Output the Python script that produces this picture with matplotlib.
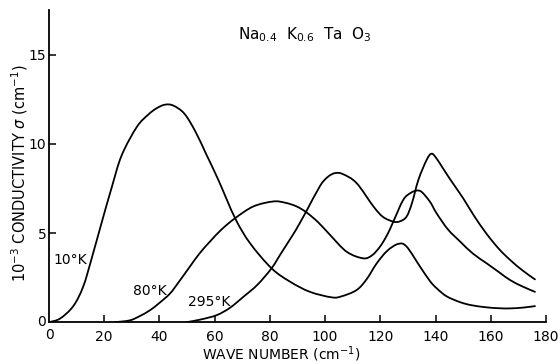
import matplotlib.pyplot as plt
from matplotlib.path import Path
from matplotlib.patches import PathPatch

# values
# wave number (cm^-1) and conductivity (10^-3 cm^-1) for each temperature
k10_x = [0, 4, 8.8, 12.4, 15.5, 19.1, 22.7, 26.3, 31.8, 36, 39, 42, 45, 49, 53, 57,
         61.3, 67.4, 72.8, 80.6, 87.3, 94.5, 102.4, 106, 111.4, 115, 118.7, 122.5,
         126.5, 129.5, 134.4, 138, 140.4, 144, 148.9, 153, 158.5, 163, 167, 172, 176]
k10_y = [0, 0.2, 0.9, 2.0, 3.6, 5.6, 7.55, 9.35, 10.95, 11.65, 12.0, 12.2, 12.15,
         11.7, 10.7, 9.4, 7.99, 5.83, 4.43, 3.02, 2.27, 1.7, 1.39, 1.45, 1.8, 2.4,
         3.3, 4.0, 4.39, 4.24, 3.11, 2.3, 1.9, 1.45, 1.12, 0.95, 0.83, 0.78, 0.77,
         0.82, 0.9]

k80_x = [24, 29.3, 33, 36.6, 40, 43.8, 47, 51, 54.5, 58.3, 62.5, 67.4, 74, 81.2,
         85.5, 89.7, 93.3, 97.5, 101.8, 107.8, 113.8, 117, 119.9, 122.5, 124.7, 128.3,
         131, 133.2, 135, 138, 140.4, 144.5, 148.9, 153.5, 158.5, 163, 167, 171.5, 176]
k80_y = [0, 0.1, 0.35, 0.67, 1.08, 1.6, 2.25, 3.11, 3.85, 4.52, 5.2, 5.83, 6.49, 6.77,
         6.7, 6.49, 6.15, 5.6, 4.89, 3.95, 3.58, 3.75, 4.24, 4.9, 5.64, 6.86, 7.25,
         7.38, 7.3, 6.75, 6.1, 5.2, 4.52, 3.85, 3.3, 2.8, 2.36, 2.0, 1.7]

k295_x = [49.9, 55, 60.7, 65.5, 70.4, 75.5, 80.6, 84, 87.3, 89.7, 93.3, 98.2, 101,
          103.6, 106.5, 111.4, 117.5, 121, 124.7, 127, 129.5, 131.5, 133.8, 136.8,
          138.6, 140.5, 142.8, 146, 150, 154, 158.5, 163, 167, 171.5, 176]
k295_y = [0, 0.15, 0.39, 0.8, 1.42, 2.1, 3.02, 3.85, 4.65, 5.25, 6.25, 7.65, 8.15,
          8.36, 8.3, 7.8, 6.49, 5.9, 5.64, 5.65, 5.92, 6.7, 7.99, 9.11, 9.45, 9.15,
          8.6, 7.85, 6.95, 5.95, 4.95, 4.1, 3.49, 2.9, 2.4]

x_ticks = [20, 40, 60, 80, 100, 120, 140, 160, 180]
y_ticks = [5, 10, 15]


def smooth_path(xs, ys):
    # Catmull-Rom through the read points, drawn as cubic Bezier segments
    pts = list(zip(xs, ys))
    verts = [pts[0]]
    codes = [Path.MOVETO]
    n = len(pts)
    for i in range(n - 1):
        p0 = pts[max(i - 1, 0)]
        p1 = pts[i]
        p2 = pts[i + 1]
        p3 = pts[min(i + 2, n - 1)]
        c1 = (p1[0] + (p2[0] - p0[0]) / 6, p1[1] + (p2[1] - p0[1]) / 6)
        c2 = (p2[0] - (p3[0] - p1[0]) / 6, p2[1] - (p3[1] - p1[1]) / 6)
        verts += [c1, c2, p2]
        codes += [Path.CURVE4] * 3
    return Path(verts, codes)


fig = plt.figure(figsize=(5.6, 3.64), dpi=100)
ax = fig.add_axes([0.0875, 0.115, 0.8875, 0.857])

for xs, ys in [(k10_x, k10_y), (k80_x, k80_y), (k295_x, k295_y)]:
    ax.add_patch(PathPatch(smooth_path(xs, ys), facecolor="none",
                           edgecolor="black", lw=1.3, capstyle="round"))

ax.set_xlim(0, 180)
ax.set_ylim(0, 17.5)
ax.spines["top"].set_visible(False)
ax.spines["right"].set_visible(False)
for s in ("left", "bottom"):
    ax.spines[s].set_linewidth(1.3)

ax.set_xticks(x_ticks)
ax.set_yticks(y_ticks)
ax.tick_params(direction="in", length=5, width=1.1, labelsize=10)
ax.tick_params(axis="x", pad=6)
ax.tick_params(axis="y", pad=2)

# the zero labels sit at the corner
ax.text(0, -0.35, "0", ha="center", va="top", fontsize=10)
ax.text(-1.0, 0, "0", ha="right", va="center", fontsize=10)

ax.text(92.7, 16.1, r"Na$_{0.4}$  K$_{0.6}$  Ta  O$_3$", ha="center", va="center",
        fontsize=11)
ax.text(1.5, 3.5, "10°K", ha="left", va="center", fontsize=10)
ax.text(30.4, 1.75, "80°K", ha="left", va="center", fontsize=10)
ax.text(50.4, 1.15, "295°K", ha="left", va="center", fontsize=10)

ax.set_xlabel(r"WAVE NUMBER (cm$^{-1}$)", fontsize=10)
ax.xaxis.set_label_coords(0.467, -0.072)
ax.set_ylabel(r"10$^{-3}$ CONDUCTIVITY $\sigma$ (cm$^{-1}$)", fontsize=10.5)
ax.yaxis.set_label_coords(-0.06, 0.478)
ax.yaxis.label.set_va("center")

fig.savefig("out.png", dpi=100)
